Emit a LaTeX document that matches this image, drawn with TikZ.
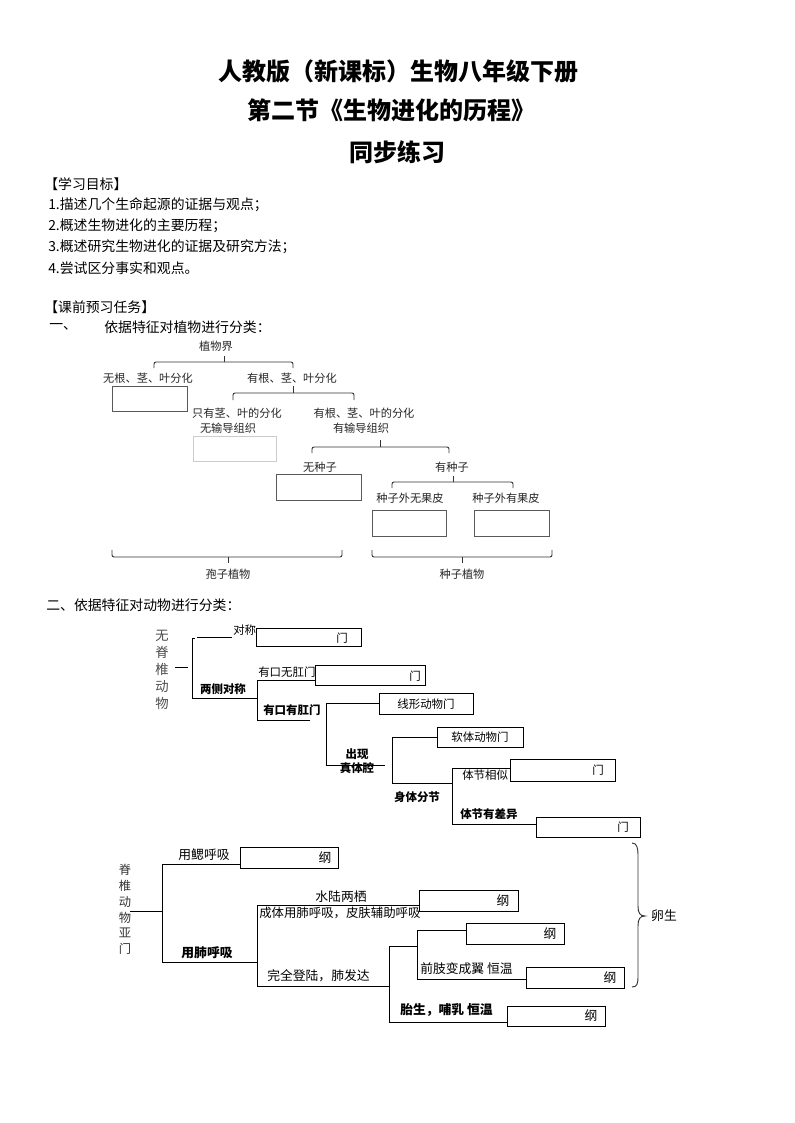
\documentclass[tikz,border=0pt]{standalone}
\usepackage{fontspec}
\setmainfont{Noto Sans CJK SC}
\begin{document}
\begin{tikzpicture}[x=0.75pt,y=-0.75pt,
  ttl/.style={font=\fontsize{18}{18}\selectfont\bfseries, inner sep=0},
  body/.style={font=\fontsize{10.4}{10.4}\selectfont, inner sep=0, anchor=west},
  pl/.style={font=\fontsize{8.4}{8.4}\selectfont, inner sep=0, text=black!85},
  an/.style={font=\fontsize{8.6}{8.6}\selectfont, inner sep=0},
  anb/.style={font=\fontsize{8.6}{8.6}\selectfont\bfseries, inner sep=0},
  vt/.style={font=\fontsize{9.6}{9.6}\selectfont, inner sep=0},
  vtb/.style={font=\fontsize{9.6}{9.6}\selectfont\bfseries, inner sep=0},
  br/.style={draw=black!80, line width=0.7pt, rounded corners=1.5pt},
  ln/.style={draw=black, line width=0.7pt},
  pbox/.style args={#1/#2}{draw=black!65, line width=0.7pt, minimum width=#1*0.75pt, minimum height=#2*0.75pt, inner sep=0},
  abox/.style args={#1/#2}{draw=black, fill=white, line width=0.7pt, minimum width=#1*0.75pt, minimum height=#2*0.75pt, inner sep=0}
]
\useasboundingbox[fill=white] (0,0) rectangle (794,1123);

% titles
\node[ttl] (t1) at (398,71) {人教版（新课标）生物八年级下册};
\node[ttl] (t2) at (391,110) {第二节《生物进化的历程》};
\node[ttl] (t3) at (397,152) {同步练习};

% objectives
\node[body] (h1) at (44,184) {【学习目标】};
\node[body] (o1) at (48,205) {1.描述几个生命起源的证据与观点；};
\node[body] (o2) at (48,226) {2.概述生物进化的主要历程；};
\node[body] (o3) at (48,247) {3.概述研究生物进化的证据及研究方法；};
\node[body] (o4) at (48,268) {4.尝试区分事实和观点。};
\node[body] (h2) at (44,307) {【课前预习任务】};
\node[body] (s1a) at (49,327) {一、};
\node[body] (s1b) at (104,327) {依据特征对植物进行分类：};

% ---------- plant diagram ----------
\node[pl] (kingdom) at (216,346) {植物界};
\draw[br] (154,368) -- (154,362) -- (293,362) -- (293,368);
\draw[br] (224,362) -- (224,356);
\node[pl] (noroot) at (148,378) {无根、茎、叶分化};
\node[pl] (root) at (292,378) {有根、茎、叶分化};
\node[pbox=75/25] (pb1) at (149.5,398.5) {};
\draw[br] (233,400) -- (233,393) -- (354,393) -- (354,400);
\draw[br] (293,393) -- (293,386);
\node[pl] (sl1) at (237,413) {只有茎、叶的分化};
\node[pl] (sl2) at (228,428) {无输导组织};
\node[pl] (rs1) at (364,413) {有根、茎、叶的分化};
\node[pl] (rs2) at (361,428) {有输导组织};
\node[pbox=83/25, draw=black!20] (pb2) at (234.5,448.5) {};
\draw[br] (312,453) -- (312,447) -- (449,447) -- (449,453);
\draw[br] (380,447) -- (380,440);
\node[pl] (noseed) at (320,467) {无种子};
\node[pl] (seed) at (452,467) {有种子};
\node[pbox=85/26] (pb3) at (318.5,487) {};
\draw[br] (392,488) -- (392,482) -- (513,482) -- (513,488);
\draw[br] (453,482) -- (453,476);
\node[pl] (gym) at (410,498) {种子外无果皮};
\node[pl] (ang) at (506,498) {种子外有果皮};
\node[pbox=74/26] (pb4) at (409,523) {};
\node[pbox=75/26] (pb5) at (511.5,523) {};
\draw[br] (112,550) -- (112,557) -- (342,557) -- (342,550);
\draw[br] (228,557) -- (228,563);
\node[pl] (spore) at (228,574) {孢子植物};
\draw[br] (372,550) -- (372,557) -- (552,557) -- (552,550);
\draw[br] (462,557) -- (462,563);
\node[pl] (seedpl) at (462,574) {种子植物};

% ---------- animal diagram ----------
\node[body] (s2) at (46,605) {二、依据特征对动物进行分类：};

\node[font=\fontsize{10}{12.75}\selectfont, text=black!70, align=center, inner sep=0] (inv) at (162,670) {无\\脊\\椎\\动\\物};
\draw[ln] (175,667) -- (188,667);
\draw[ln] (195,638) -- (192,638) -- (192,698) -- (257,698);
\draw[ln] (197,637) -- (232,637);
\node[an, anchor=west] (sym) at (233,630) {对称};
\node[abox=105/18] (ab1) at (308.5,637) {};
\node[an] at (342,638) {门};
\node[anb] (bilat) at (223,689) {两侧对称};
\draw[ln] (315,680) -- (257,680) -- (257,720) -- (310,720);
\node[an, anchor=west] (noanus) at (258,672) {有口无肛门};
\node[abox=110/20] (ab2) at (370,675) {};
\node[an] at (415,676) {门};
\node[anb, anchor=west] (anus) at (263,710) {有口有肛门};
\node[abox=94/21] (nema) at (426,703.5) {};
\node[an] at (426,704) {线形动物门};
\draw[ln] (nema.west) -- (326,703.5) -- (326,765) -- (385,765);
\node[anb] (coel1) at (357,754) {出现};
\node[anb] (coel2) at (357,768) {真体腔};
\node[abox=86/20] (moll) at (480,737) {};
\node[an] at (480,737) {软体动物门};
\draw[ln] (moll.west) -- (392,737) -- (392,783) -- (452,783);
\node[anb] (seg) at (417,797) {身体分节};
\node[abox=105/22] (ab3) at (562.5,770) {};
\node[an] at (598,770) {门};
\draw[ln] (ab3.west |- 0,768) -- (452,768) -- (452,824) -- (536,824);
\node[an, anchor=west] (simseg) at (462,775) {体节相似};
\node[anb, anchor=west] (difseg) at (460,814) {体节有差异};
\node[abox=104/20] (ab4) at (588,827) {};
\node[an] at (623,827) {门};

% ---------- vertebrates ----------
\node[font=\fontsize{9.2}{11.85}\selectfont, text=black!80, align=center, inner sep=0] (vert) at (125,909.5) {脊\\椎\\动\\物\\亚\\门};
\draw[ln] (130,911) -- (162,911);
\draw[ln] (240,864) -- (162,864) -- (162,962) -- (257,962);
\node[vt] (gill) at (204,855) {用鳃呼吸};
\node[abox=98/21] (vb1) at (289,857.5) {};
\node[vt] at (325,858) {纲};
\node[vtb] (lung) at (207,953) {用肺呼吸};
\node[vt] (amph) at (341,897) {水陆两栖};
\node[vt, font=\fontsize{9.3}{9.3}\selectfont, anchor=west] (amph2) at (259,913) {成体用肺呼吸，皮肤辅助呼吸};
\draw[ln] (419,905) -- (257,905) -- (257,986) -- (389,986);
\node[abox=99/21] (vb2) at (468.5,900.5) {};
\node[vt] at (503,901) {纲};
\node[vt, anchor=west] (land) at (267,976) {完全登陆，肺发达};
\draw[ln] (417,946) -- (389,946) -- (389,1022) -- (507,1022);
\draw[ln] (466,930) -- (417,930) -- (417,979) -- (526,979);
\node[abox=98/21] (vb3) at (515,933.5) {};
\node[vt] at (550,934) {纲};
\node[vt, anchor=west] (bird) at (420,969) {前肢变成翼\ 恒温};
\node[abox=98/21] (vb4) at (575,977.5) {};
\node[vt] at (610,978) {纲};
\node[vtb, anchor=west] (mam) at (400,1010) {胎生，哺乳\ 恒温};
\node[abox=98/20] (vb5) at (556,1016) {};
\node[vt] at (591,1016) {纲};

\draw[line width=0.7pt, draw=black!80] (632,843) .. controls (637,843) and (638,848) .. (638,856) -- (638,906) .. controls (638,913) and (640,916) .. (645,916) .. controls (640,916) and (638,919) .. (638,926) -- (638,976) .. controls (638,984) and (637,987) .. (632,987);
\node[vt] (ovi) at (664,916) {卵生};
\end{tikzpicture}
\end{document}
